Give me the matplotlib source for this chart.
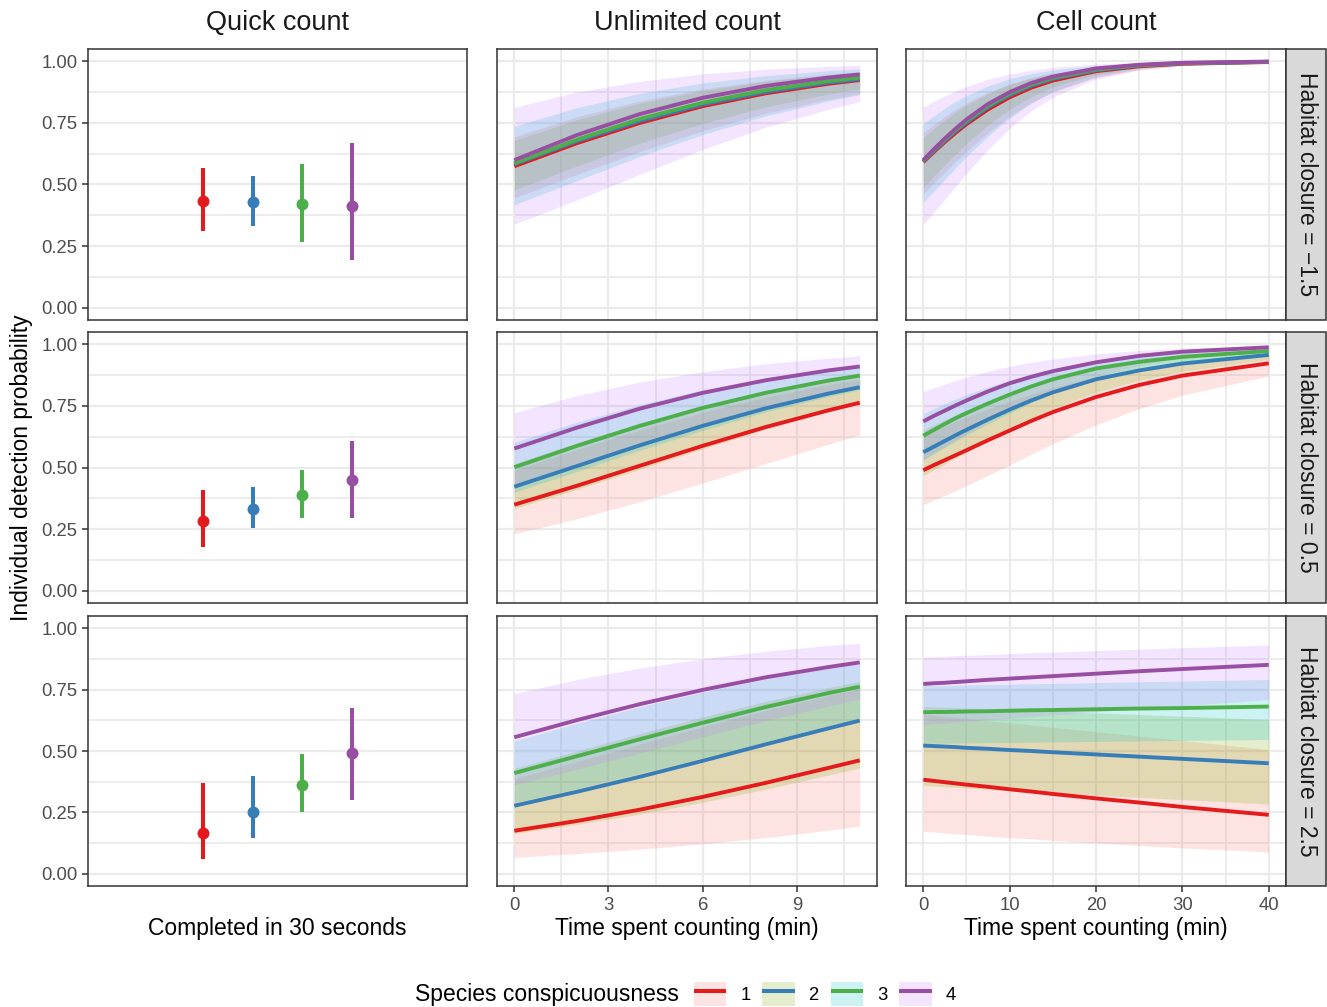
import matplotlib
matplotlib.use('Agg')
import matplotlib.pyplot as plt
from matplotlib.patches import Patch, Rectangle
from matplotlib.lines import Line2D
from matplotlib.legend_handler import HandlerTuple

plt.rcParams['font.family'] = ['Liberation Sans', 'DejaVu Sans']

# ---------------- data ----------------
species = ['1', '2', '3', '4']
line_colors = ['#E41A1C', '#377EB8', '#4DAF4A', '#984EA3']
fill_colors = ['#F8766D', '#7CAE00', '#00BFC4', '#C77CFF']
col_titles = ['Quick count', 'Unlimited count', 'Cell count']
row_labels = ['Habitat closure = \u22121.5', 'Habitat closure = 0.5', 'Habitat closure = 2.5']
x_titles = ['Completed in 30 seconds', 'Time spent counting (min)', 'Time spent counting (min)']
y_title = 'Individual detection probability'

# Quick count (one estimate per species, per habitat row)
quick_mid = [[0.435, 0.427, 0.419, 0.411],
             [0.281, 0.332, 0.389, 0.449],
             [0.167, 0.252, 0.363, 0.490]]
quick_lo = [[0.311, 0.331, 0.266, 0.192],
            [0.178, 0.255, 0.296, 0.296],
            [0.062, 0.147, 0.250, 0.301]]
quick_hi = [[0.565, 0.533, 0.585, 0.669],
            [0.409, 0.422, 0.491, 0.608],
            [0.370, 0.398, 0.487, 0.677]]

# Unlimited count
time_unlim = [0, 2, 4, 6, 8, 10, 11]
unlim_mid_r1 = [[0.574, 0.668, 0.750, 0.818, 0.870, 0.909, 0.924],
                [0.582, 0.676, 0.758, 0.825, 0.876, 0.914, 0.928],
                [0.586, 0.682, 0.766, 0.832, 0.883, 0.920, 0.934],
                [0.599, 0.701, 0.786, 0.852, 0.900, 0.934, 0.947]]
unlim_lo_r1 = [[0.445, 0.541, 0.634, 0.718, 0.789, 0.846, 0.869],
               [0.478, 0.575, 0.668, 0.748, 0.815, 0.867, 0.888],
               [0.418, 0.516, 0.614, 0.703, 0.778, 0.839, 0.865],
               [0.339, 0.437, 0.541, 0.642, 0.732, 0.805, 0.836]]
unlim_hi_r1 = [[0.694, 0.775, 0.839, 0.888, 0.923, 0.948, 0.957],
               [0.679, 0.763, 0.830, 0.881, 0.919, 0.945, 0.955],
               [0.736, 0.812, 0.870, 0.912, 0.942, 0.962, 0.969],
               [0.813, 0.876, 0.919, 0.949, 0.968, 0.980, 0.984]]
unlim_mid_r2 = [[0.349, 0.426, 0.507, 0.588, 0.664, 0.732, 0.763],
                [0.422, 0.506, 0.590, 0.669, 0.740, 0.800, 0.826],
                [0.501, 0.588, 0.669, 0.742, 0.803, 0.853, 0.873],
                [0.577, 0.662, 0.739, 0.803, 0.854, 0.894, 0.910]]
unlim_lo_r2 = [[0.231, 0.292, 0.361, 0.437, 0.516, 0.594, 0.632],
               [0.333, 0.411, 0.493, 0.576, 0.655, 0.726, 0.758],
               [0.400, 0.484, 0.570, 0.651, 0.725, 0.788, 0.815],
               [0.416, 0.504, 0.591, 0.673, 0.745, 0.807, 0.833]]
unlim_hi_r2 = [[0.489, 0.573, 0.652, 0.724, 0.786, 0.837, 0.858],
               [0.516, 0.601, 0.681, 0.751, 0.810, 0.858, 0.877],
               [0.602, 0.684, 0.755, 0.815, 0.863, 0.900, 0.915],
               [0.723, 0.792, 0.847, 0.889, 0.921, 0.944, 0.953]]
unlim_mid_r3 = [[0.175, 0.215, 0.261, 0.313, 0.370, 0.431, 0.462],
                [0.277, 0.334, 0.395, 0.460, 0.527, 0.592, 0.624],
                [0.410, 0.479, 0.548, 0.615, 0.679, 0.736, 0.762],
                [0.556, 0.626, 0.691, 0.749, 0.800, 0.842, 0.861]]
unlim_lo_r3 = [[0.067, 0.082, 0.100, 0.122, 0.147, 0.177, 0.194],
               [0.164, 0.201, 0.243, 0.291, 0.344, 0.402, 0.431],
               [0.290, 0.347, 0.409, 0.473, 0.538, 0.603, 0.634],
               [0.362, 0.426, 0.492, 0.558, 0.623, 0.683, 0.711]]
unlim_hi_r3 = [[0.387, 0.457, 0.528, 0.599, 0.665, 0.726, 0.753],
               [0.429, 0.500, 0.571, 0.639, 0.702, 0.758, 0.784],
               [0.541, 0.613, 0.680, 0.740, 0.793, 0.837, 0.856],
               [0.734, 0.791, 0.838, 0.876, 0.906, 0.930, 0.939]]

# Cell count
time_cell = [0, 1.25, 2.5, 3.75, 5, 7.5, 10, 12.5, 15, 20, 25, 30, 40]
cell_mid_r1 = [[0.591, 0.633, 0.673, 0.710, 0.745, 0.805, 0.854, 0.893, 0.922, 0.960, 0.980, 0.990, 0.997],
               [0.594, 0.637, 0.678, 0.717, 0.752, 0.814, 0.863, 0.901, 0.929, 0.964, 0.983, 0.992, 0.998],
               [0.596, 0.641, 0.682, 0.722, 0.758, 0.820, 0.869, 0.906, 0.933, 0.967, 0.984, 0.993, 0.998],
               [0.599, 0.644, 0.687, 0.727, 0.764, 0.827, 0.875, 0.912, 0.938, 0.971, 0.986, 0.994, 0.999]]
cell_lo_r1 = [[0.463, 0.506, 0.550, 0.593, 0.634, 0.711, 0.777, 0.832, 0.875, 0.934, 0.966, 0.983, 0.996],
              [0.490, 0.536, 0.581, 0.624, 0.666, 0.742, 0.805, 0.856, 0.896, 0.947, 0.974, 0.987, 0.997],
              [0.428, 0.474, 0.521, 0.568, 0.613, 0.697, 0.770, 0.830, 0.877, 0.938, 0.970, 0.985, 0.997],
              [0.339, 0.388, 0.440, 0.492, 0.544, 0.642, 0.729, 0.799, 0.855, 0.928, 0.965, 0.984, 0.997]]
cell_hi_r1 = [[0.709, 0.744, 0.776, 0.805, 0.831, 0.874, 0.908, 0.933, 0.952, 0.976, 0.988, 0.994, 0.999],
              [0.690, 0.728, 0.762, 0.794, 0.822, 0.869, 0.906, 0.933, 0.952, 0.976, 0.989, 0.994, 0.999],
              [0.745, 0.779, 0.809, 0.837, 0.861, 0.900, 0.929, 0.950, 0.965, 0.983, 0.992, 0.996, 0.999],
              [0.813, 0.838, 0.860, 0.880, 0.898, 0.927, 0.948, 0.964, 0.975, 0.989, 0.995, 0.998, 1.000]]
cell_mid_r2 = [[0.489, 0.510, 0.530, 0.550, 0.570, 0.611, 0.650, 0.689, 0.725, 0.786, 0.835, 0.873, 0.923],
               [0.562, 0.585, 0.608, 0.631, 0.653, 0.695, 0.735, 0.772, 0.805, 0.858, 0.894, 0.922, 0.957],
               [0.629, 0.653, 0.677, 0.700, 0.721, 0.760, 0.796, 0.829, 0.858, 0.902, 0.929, 0.949, 0.973],
               [0.687, 0.710, 0.731, 0.752, 0.772, 0.809, 0.842, 0.868, 0.891, 0.927, 0.953, 0.970, 0.988]]
cell_lo_r2 = [[0.349, 0.368, 0.387, 0.406, 0.426, 0.468, 0.510, 0.554, 0.596, 0.673, 0.739, 0.794, 0.871],
              [0.467, 0.491, 0.515, 0.539, 0.562, 0.610, 0.655, 0.699, 0.739, 0.805, 0.853, 0.890, 0.938],
              [0.530, 0.556, 0.582, 0.607, 0.632, 0.677, 0.721, 0.763, 0.801, 0.859, 0.897, 0.925, 0.960],
              [0.534, 0.561, 0.587, 0.613, 0.639, 0.688, 0.735, 0.775, 0.810, 0.869, 0.914, 0.944, 0.977]]
cell_hi_r2 = [[0.631, 0.650, 0.668, 0.686, 0.703, 0.737, 0.769, 0.798, 0.825, 0.868, 0.900, 0.925, 0.956],
              [0.652, 0.674, 0.694, 0.714, 0.733, 0.769, 0.802, 0.832, 0.858, 0.899, 0.925, 0.945, 0.970],
              [0.719, 0.740, 0.760, 0.778, 0.796, 0.826, 0.855, 0.880, 0.901, 0.933, 0.952, 0.965, 0.982],
              [0.808, 0.824, 0.839, 0.853, 0.867, 0.890, 0.911, 0.927, 0.940, 0.961, 0.975, 0.984, 0.994]]
cell_mid_r3 = [[0.383, 0.378, 0.373, 0.368, 0.363, 0.354, 0.344, 0.335, 0.325, 0.307, 0.290, 0.272, 0.240],
               [0.522, 0.520, 0.518, 0.516, 0.513, 0.509, 0.504, 0.500, 0.495, 0.486, 0.477, 0.468, 0.450],
               [0.658, 0.659, 0.659, 0.660, 0.661, 0.662, 0.664, 0.666, 0.667, 0.670, 0.673, 0.675, 0.681],
               [0.773, 0.776, 0.778, 0.781, 0.784, 0.790, 0.795, 0.800, 0.805, 0.815, 0.825, 0.834, 0.851]]
cell_lo_r3 = [[0.173, 0.170, 0.166, 0.163, 0.160, 0.153, 0.147, 0.142, 0.136, 0.125, 0.115, 0.105, 0.089],
              [0.359, 0.357, 0.354, 0.352, 0.349, 0.344, 0.339, 0.335, 0.330, 0.320, 0.311, 0.302, 0.284],
              [0.531, 0.532, 0.532, 0.533, 0.533, 0.534, 0.535, 0.536, 0.537, 0.539, 0.541, 0.543, 0.547],
              [0.607, 0.611, 0.614, 0.618, 0.621, 0.627, 0.634, 0.641, 0.647, 0.660, 0.673, 0.685, 0.709]]
cell_hi_r3 = [[0.649, 0.645, 0.640, 0.636, 0.632, 0.623, 0.615, 0.606, 0.597, 0.579, 0.561, 0.543, 0.506],
              [0.681, 0.680, 0.678, 0.677, 0.675, 0.671, 0.668, 0.665, 0.662, 0.655, 0.649, 0.642, 0.628],
              [0.766, 0.767, 0.767, 0.768, 0.769, 0.771, 0.772, 0.774, 0.775, 0.779, 0.782, 0.785, 0.791],
              [0.882, 0.884, 0.886, 0.888, 0.890, 0.893, 0.897, 0.900, 0.903, 0.909, 0.915, 0.921, 0.931]]

unlim_panels = [(unlim_mid_r1, unlim_lo_r1, unlim_hi_r1),
                (unlim_mid_r2, unlim_lo_r2, unlim_hi_r2),
                (unlim_mid_r3, unlim_lo_r3, unlim_hi_r3)]
cell_panels = [(cell_mid_r1, cell_lo_r1, cell_hi_r1),
               (cell_mid_r2, cell_lo_r2, cell_hi_r2),
               (cell_mid_r3, cell_lo_r3, cell_hi_r3)]

# ---------------- layout ----------------
W, H = 1327, 1007
fig = plt.figure(figsize=(W / 100, H / 100), dpi=100)
fig.patch.set_facecolor('white')

col_x = [(88, 467), (497, 877), (906, 1286)]
row_y = [(49, 320), (332, 603), (616, 886)]
strip_x = (1286, 1326)

def fx(px):
    return px / W

def fy(py):
    return 1 - py / H

GRID = '#EBEBEB'
DARK = '#333333'
TICKCOL = '#4D4D4D'
TICK_FS = 13.3
TITLE_FS = 16.5
STRIP_FS = 19.5

dodge_step = 0.157

for r, (y0, y1) in enumerate(row_y):
    for c, (x0, x1) in enumerate(col_x):
        ax = fig.add_axes([fx(x0), fy(y1), (x1 - x0) / W, (y1 - y0) / H])
        ax.set_ylim(-0.05, 1.05)
        ax.set_yticks([0, 0.25, 0.5, 0.75, 1.0])
        ax.set_yticks([0.125, 0.375, 0.625, 0.875], minor=True)
        ax.set_axisbelow(True)
        for s in ax.spines.values():
            s.set_color(DARK)
            s.set_linewidth(1.1)
        if c == 0:
            ax.set_xlim(0.4, 1.6)
            ax.set_xticks([])
            ax.grid(axis='y', which='major', color=GRID, lw=1.6)
            ax.grid(axis='y', which='minor', color=GRID, lw=1.3)
            for i in range(4):
                xp = 1 + (i - 1.5) * dodge_step
                ax.vlines(xp, quick_lo[r][i], quick_hi[r][i], color=line_colors[i], lw=2.9, zorder=3)
                ax.plot([xp], [quick_mid[r][i]], 'o', ms=8.6, color=line_colors[i], mec='none', zorder=4)
        else:
            if c == 1:
                t = time_unlim
                mid, lo, hi = unlim_panels[r]
                ax.set_xlim(-0.55, 11.55)
                ax.set_xticks([0, 3, 6, 9])
                ax.set_xticks([1.5, 4.5, 7.5, 10.5], minor=True)
            else:
                t = time_cell
                mid, lo, hi = cell_panels[r]
                ax.set_xlim(-2, 42)
                ax.set_xticks([0, 10, 20, 30, 40])
                ax.set_xticks([5, 15, 25, 35], minor=True)
            ax.grid(which='major', color=GRID, lw=1.6)
            ax.grid(which='minor', color=GRID, lw=1.3)
            for i in range(4):
                ax.fill_between(t, lo[i], hi[i], color=fill_colors[i], alpha=0.2, lw=0, zorder=2)
            for i in range(4):
                ax.plot(t, mid[i], color=line_colors[i], lw=2.8, zorder=3,
                        solid_capstyle='butt', solid_joinstyle='round')
        # ticks
        ax.tick_params(which='minor', length=0)
        ax.tick_params(which='major', color=DARK, width=1.1, length=4.2,
                       labelcolor=TICKCOL, labelsize=TICK_FS, pad=3.5)
        if c == 0:
            ax.tick_params(axis='y', left=True, labelleft=True)
        else:
            ax.tick_params(axis='y', left=False, labelleft=False)
        if c > 0 and r == 2:
            ax.tick_params(axis='x', bottom=True, labelbottom=True)
        else:
            ax.tick_params(axis='x', bottom=False, labelbottom=False)

# column strip titles (no background)
for c, (x0, x1) in enumerate(col_x):
    fig.text(fx((x0 + x1) / 2), fy(23), col_titles[c], ha='center', va='center',
             fontsize=STRIP_FS, color='#1A1A1A')

# right strips
for r, (y0, y1) in enumerate(row_y):
    rect = Rectangle((fx(strip_x[0]), fy(y1)), (strip_x[1] - strip_x[0]) / W, (y1 - y0) / H,
                     transform=fig.transFigure, facecolor='#D9D9D9', edgecolor=DARK,
                     lw=1.1, zorder=5)
    fig.add_artist(rect)
    fig.text(fx((strip_x[0] + strip_x[1]) / 2), fy((y0 + y1) / 2), row_labels[r],
             rotation=-90, ha='center', va='center', fontsize=TITLE_FS, color='#1A1A1A',
             zorder=6)

# axis titles
for c, (x0, x1) in enumerate(col_x):
    fig.text(fx((x0 + x1) / 2), fy(929), x_titles[c], ha='center', va='center',
             fontsize=TITLE_FS, color='black')
fig.text(fx(22), fy((row_y[0][0] + row_y[2][1]) / 2), y_title, rotation=90,
         ha='center', va='center', fontsize=TITLE_FS, color='black')

# legend
fig.text(fx(415), fy(995), 'Species conspicuousness', ha='left', va='center',
         fontsize=TITLE_FS, color='black')
handles = [(Patch(facecolor=fill_colors[i], alpha=0.2, edgecolor='none'),
            Line2D([], [], color=line_colors[i], lw=2.9, solid_capstyle='butt'))
           for i in range(4)]
fig.legend(handles, species, loc='center left', bbox_to_anchor=(fx(694), fy(994)),
           ncol=4, frameon=False, fontsize=13.3, handlelength=1.75, handleheight=1.65,
           handletextpad=0.75, columnspacing=0.65, borderpad=0, borderaxespad=0,
           handler_map={tuple: HandlerTuple(ndivide=1, pad=0)})

fig.savefig('out.png', dpi=100, facecolor='white')
